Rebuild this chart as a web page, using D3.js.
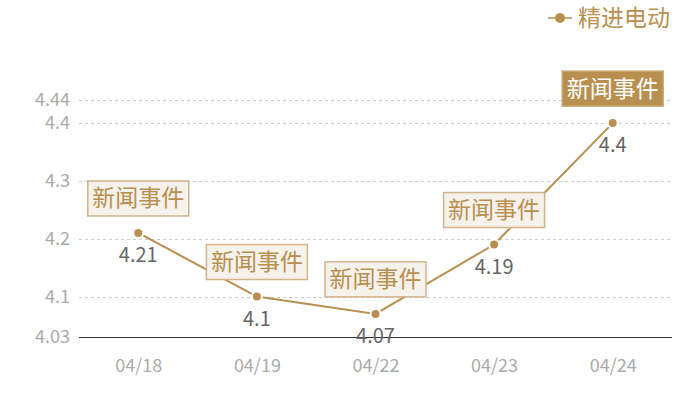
<!DOCTYPE html>
<html>
<head>
<meta charset="utf-8">
<script src="https://cdn.jsdelivr.net/npm/d3@7"></script>
<style>
  body { margin: 0; background: #fff; }
  svg { font-family: "Noto Sans CJK SC", "Noto Sans", sans-serif; }
</style>
</head>
<body>
<div id="chart"></div>
<script>
// Data______________________________________________________
const categories = ["04/18", "04/19", "04/22", "04/23", "04/24"];
const values = [4.21, 4.1, 4.07, 4.19, 4.4];
const eventLabels = ["新闻事件", "新闻事件", "新闻事件", "新闻事件", "新闻事件"];
const highlighted = [false, false, false, false, true];
const yTicks = [4.03, 4.1, 4.2, 4.3, 4.4, 4.44];
const seriesName = "精进电动";

const width = 700, height = 400;
const plotLeft = 79, plotRight = 672, plotTop = 100, plotBottom = 337;
const gold = "#b98f50";

const svg = d3.select("#chart").append("svg")
    .attr("width", width)
    .attr("height", height);

const x = d3.scalePoint()
    .domain(categories)
    .range([plotLeft, plotRight])
    .padding(0.5);

const y = d3.scaleLinear()
    .domain([4.03, 4.44])
    .range([plotBottom, plotTop]);

// Grid lines
svg.append("g")
    .selectAll("line")
    .data(yTicks)
    .enter()
    .append("line")
    .attr("x1", plotLeft)
    .attr("x2", plotRight)
    .attr("y1", d => Math.round(y(d)) + 0.5)
    .attr("y2", d => Math.round(y(d)) + 0.5)
    .attr("stroke", d => d === 4.03 ? "#333" : "#ccc")
    .attr("stroke-width", 1)
    .attr("stroke-dasharray", d => d === 4.03 ? null : "3,3");

// Y axis
const yAxis = d3.axisLeft(y)
    .tickValues(yTicks)
    .tickFormat(d => String(d))
    .tickSize(0)
    .tickPadding(9);
svg.append("g")
    .attr("transform", `translate(${plotLeft}, 0)`)
    .call(yAxis)
    .call(g => g.select(".domain").remove())
    .selectAll("text")
    .attr("fill", "#aaa")
    .style("font-size", "18px")
    .style("font-family", "'Noto Sans CJK SC', sans-serif");

// X axis
const xAxis = d3.axisBottom(x).tickSize(0).tickPadding(22);
svg.append("g")
    .attr("transform", `translate(0, ${plotBottom})`)
    .call(xAxis)
    .call(g => g.select(".domain").remove())
    .selectAll("text")
    .attr("fill", "#aaa")
    .style("font-size", "18px")
    .style("font-family", "'Noto Sans CJK SC', sans-serif");

// Line
const line = d3.line()
    .x((d, i) => x(categories[i]))
    .y(d => y(d));
svg.append("path")
    .datum(values)
    .attr("d", line)
    .attr("fill", "none")
    .attr("stroke", gold)
    .attr("stroke-width", 2);

// Points
svg.append("g")
    .selectAll("circle")
    .data(values)
    .enter()
    .append("circle")
    .attr("cx", (d, i) => x(categories[i]))
    .attr("cy", d => y(d))
    .attr("r", 5)
    .attr("fill", gold)
    .attr("stroke", "#fff")
    .attr("stroke-width", 2);

// Value labels
svg.append("g")
    .selectAll("text")
    .data(values)
    .enter()
    .append("text")
    .attr("x", (d, i) => x(categories[i]))
    .attr("y", d => y(d) + 29)
    .attr("text-anchor", "middle")
    .attr("fill", "#666")
    .style("font-size", "20px")
    .text(d => String(d));

// Event boxes
const boxW = 101, boxH = 35;
const events = svg.append("g")
    .selectAll("g")
    .data(values)
    .enter()
    .append("g")
    .attr("transform", (d, i) => `translate(${x(categories[i])}, ${y(d) - 17 - boxH})`);
events.append("rect")
    .attr("x", -boxW / 2)
    .attr("y", 0)
    .attr("width", boxW)
    .attr("height", boxH)
    .attr("fill", (d, i) => highlighted[i] ? gold : "#f5f1eb")
    .attr("stroke", (d, i) => highlighted[i] ? "#c9a874" : "#d2b48a")
    .attr("stroke-width", 1.5);
events.append("text")
    .attr("x", 0)
    .attr("y", boxH / 2 + 8)
    .attr("text-anchor", "middle")
    .attr("fill", (d, i) => highlighted[i] ? "#fff" : gold)
    .style("font-size", "23px")
    .text((d, i) => eventLabels[i]);

// Legend
const legend = svg.append("g").attr("transform", "translate(548, 18)");
legend.append("line")
    .attr("x1", 0).attr("x2", 24)
    .attr("y1", 0).attr("y2", 0)
    .attr("stroke", "#c9a874")
    .attr("stroke-width", 2);
legend.append("circle")
    .attr("cx", 12).attr("cy", 0)
    .attr("r", 5)
    .attr("fill", gold);
legend.append("text")
    .attr("x", 30)
    .attr("y", 8)
    .attr("fill", gold)
    .style("font-size", "23px")
    .text(seriesName);
</script>
</body>
</html>
